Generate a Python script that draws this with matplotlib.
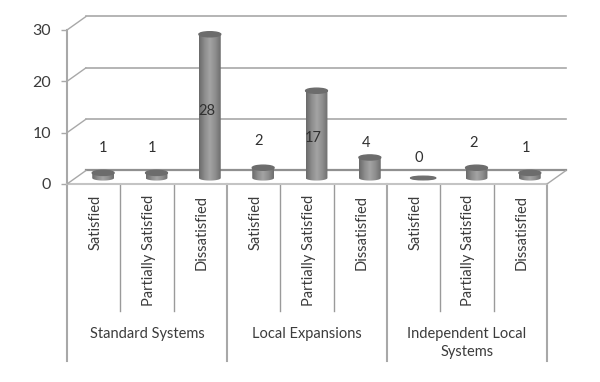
import numpy as np
import matplotlib
matplotlib.use('Agg')
import matplotlib.pyplot as plt
from matplotlib.patches import Ellipse
from matplotlib.path import Path
from matplotlib.colors import LinearSegmentedColormap
from matplotlib.transforms import Affine2D, ScaledTranslation

plt.rcParams['font.family'] = ['Lato', 'DejaVu Sans']

categories = ['Satisfied', 'Partially Satisfied', 'Dissatisfied'] * 3
groups = ['Standard Systems', 'Local Expansions', 'Independent Local\nSystems']
values = [1, 1, 28, 2, 17, 4, 0, 2, 1]
y_ticks = [0, 10, 20, 30]

# where excel floated the data labels, in axis units
label_x = [0.68, 1.6, 2.62, 3.6, 4.62, 5.6, 6.6, 7.62, 8.6]
label_y = [7.0, 7.0, 14.2, 8.3, 9.0, 8.0, 5.0, 8.0, 7.0]

TEXT = '#3c3c3c'
GRID = '#a8a8a8'

fig = plt.figure(figsize=(6, 3.82), dpi=100)
ax = fig.add_axes([67 / 600, (382 - 184) / 382, 480 / 600, 154 / 382])
ax.set_xlim(0, 9)
ax.set_ylim(0, 30)
ax.patch.set_visible(False)

for s in ['top', 'right']:
    ax.spines[s].set_visible(False)
ax.spines['left'].set_color(GRID)
ax.spines['left'].set_linewidth(1.5)
ax.spines['bottom'].set_color('#c4c4c4')
ax.spines['bottom'].set_linewidth(1.5)

ax.set_yticks(y_ticks)
ax.tick_params(axis='y', length=4, width=1, color=GRID, labelsize=11.5, labelcolor=TEXT, pad=7.5)
ax.set_xticks(np.arange(9) + 0.5, categories, rotation=90, fontsize=10.5, color=TEXT)
ax.tick_params(axis='x', length=0, pad=8)
nudge = ScaledTranslation(1.5 / 100, 0, fig.dpi_scale_trans)
for t in ax.get_xticklabels():
    t.set_va('top')
    t.set_ha('center')
    t.set_transform(t.get_transform() + nudge)

# back wall, shifted up and right in pixels
back = ax.transData + Affine2D().translate(19, 13.5)
for v in y_ticks:
    ax.plot([0, 9], [v, v], color='#909090' if v == 0 else GRID, lw=1.6 if v == 0 else 1.2,
            transform=back, clip_on=False, zorder=1)
    x0, y0 = ax.transData.transform((0, v))
    ax.annotate('', xy=(x0 + 19, y0 + 13.5), xytext=(x0, y0), xycoords='figure pixels',
                textcoords='figure pixels',
                arrowprops=dict(arrowstyle='-', color=GRID, lw=1, shrinkA=0, shrinkB=0))
x0, y0 = ax.transData.transform((9, 0))
ax.annotate('', xy=(x0 + 19, y0 + 13.5), xytext=(x0, y0), xycoords='figure pixels',
            textcoords='figure pixels',
            arrowprops=dict(arrowstyle='-', color=GRID, lw=1, shrinkA=0, shrinkB=0))

# cylinders sit mid depth
mid = ax.transData + Affine2D().translate(9.5, 6)
cm = LinearSegmentedColormap.from_list('cyl', ['#6a6a6a', '#8c8c8c', '#a4a4a4', '#8e8e8e', '#6e6e6e'])
grad = np.linspace(0, 1, 64).reshape(1, -1)
bar_w = 0.41
ell_h = 1.0
t_arc = np.linspace(np.pi, 2 * np.pi, 30)
for i, v in enumerate(values):
    c = i + 0.5
    ax.text(label_x[i], label_y[i], str(v), ha='center', va='center', fontsize=10.5, color='#303030', zorder=5)
    if v == 0:
        ax.add_patch(Ellipse((c, 0), bar_w * 1.15, ell_h * 0.7, color='#6e6e6e', transform=mid,
                             clip_on=False, zorder=3))
        continue
    # body outline: straight sides and the rounded foot
    xs = c + bar_w / 2 * np.cos(t_arc)
    ys = ell_h / 2 * np.sin(t_arc)
    verts = list(zip(xs, ys)) + [(c + bar_w / 2, v), (c - bar_w / 2, v), (xs[0], ys[0])]
    im = ax.imshow(grad, extent=(c - bar_w / 2, c + bar_w / 2, -ell_h / 2, v), aspect='auto', cmap=cm,
                   transform=mid, zorder=3.1, clip_on=True)
    im.set_clip_path(Path(verts), transform=mid)
    ax.add_patch(Ellipse((c, v), bar_w, ell_h, color='#6c6c6c', transform=mid, clip_on=False, zorder=3.2))
ax.set_xlim(0, 9)
ax.set_ylim(0, 30)
ax.set_aspect('auto')

# multi level axis dividers
for i in range(10):
    low = -34.5 if i % 3 == 0 else -24.7
    ax.plot([i, i], [0, low], color=GRID if i % 3 == 0 else '#9a9a9a', lw=1.5 if i % 3 == 0 else 1,
            clip_on=False, zorder=1)

for i, g in enumerate(groups):
    ax.text(i * 3 + 1.5, -27.9, g, ha='center', va='top', fontsize=10.5, color=TEXT, linespacing=1.35)

fig.savefig('out.png', dpi=100)
